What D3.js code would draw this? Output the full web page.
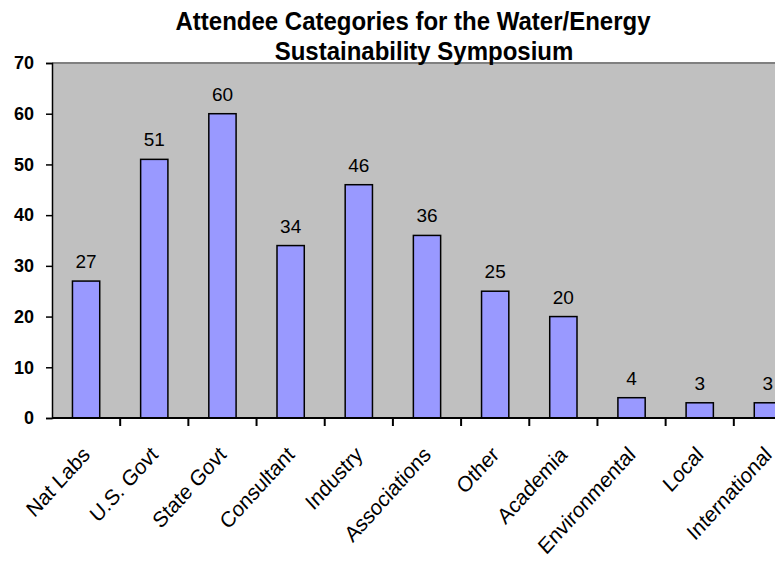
<!DOCTYPE html>
<html lang="en">
<head>
    <meta charset="UTF-8">
    <title>Attendee Categories</title>
    <script src="https://cdn.jsdelivr.net/npm/d3@7"></script>
    <style>
        body { margin: 0; background: #fff; }
        text { font-family: "Liberation Sans", Arial, sans-serif; }
    </style>
</head>
<body>
    <script>
        // data
        let categories = ["Nat Labs", "U.S. Govt", "State Govt", "Consultant", "Industry",
            "Associations", "Other", "Academia", "Environmental", "Local", "International"]
        let counts = [27, 51, 60, 34, 46, 36, 25, 20, 4, 3, 3]
        let yTicks = [0, 10, 20, 30, 40, 50, 60, 70]
        let titleLines = ["Attendee Categories for the Water/Energy", "Sustainability Symposium"]

        let width = 775
        let height = 562
        let plot = ({ left: 52, right: 802, top: 63, bottom: 418 })

        let x = d3.scaleBand()
            .domain(categories)
            .range([plot.left, plot.right])
            .paddingInner(0.6)
            .paddingOuter(0.3)
        let xTick = d3.scaleBand().domain(categories).range([plot.left, plot.right])

        let y = d3.scaleLinear()
            .domain([0, 70])
            .range([plot.bottom, plot.top])

        const svg = d3.select("body").append("svg")
            .attr("width", width)
            .attr("height", height)

        // plot area
        svg.append("rect")
            .attr("x", plot.left).attr("y", plot.top)
            .attr("width", plot.right - plot.left)
            .attr("height", plot.bottom - plot.top)
            .attr("fill", "#c0c0c0")
        svg.append("line")
            .attr("x1", plot.left).attr("x2", plot.right)
            .attr("y1", plot.top).attr("y2", plot.top)
            .attr("stroke", "#808080").attr("stroke-width", 2)

        // title
        svg.append("g").selectAll("text")
            .data(titleLines)
            .join("text")
            .attr("transform", (d, i) => `translate(${i ? 424 : 413},${i ? 60 : 30}) scale(1,1.05)`)
            .attr("text-anchor", "middle")
            .attr("font-size", 24)
            .attr("font-weight", "bold")
            .text(d => d)

        // bars
        svg.append("g").selectAll("rect")
            .data(counts)
            .join("rect")
            .attr("x", (d, i) => x(categories[i]))
            .attr("y", d => y(d))
            .attr("width", x.bandwidth())
            .attr("height", d => y(0) - y(d))
            .attr("fill", "#9999ff")
            .attr("stroke", "#000")
            .attr("stroke-width", 1.5)

        // value labels
        svg.append("g").selectAll("text")
            .data(counts)
            .join("text")
            .attr("x", (d, i) => x(categories[i]) + x.bandwidth() / 2)
            .attr("y", d => y(d) - 13)
            .attr("text-anchor", "middle")
            .attr("font-size", 19)
            .text(d => d)

        // y axis
        const yAxis = svg.append("g")
            .attr("transform", `translate(${plot.left},0)`)
            .call(d3.axisLeft(y).tickValues(yTicks).tickSize(6).tickPadding(12))
        yAxis.select(".domain").attr("stroke", "#000").attr("stroke-width", 1.5)
        yAxis.selectAll(".tick line").attr("stroke", "#000").attr("stroke-width", 1.5)
        yAxis.selectAll(".tick text")
            .attr("font-size", 18)
            .attr("font-weight", "bold")
            .attr("fill", "#000")
            .attr("font-family", "'Liberation Sans', Arial, sans-serif")

        // x axis
        const xAxis = svg.append("g")
            .attr("transform", `translate(0,${plot.bottom})`)
        xAxis.append("line")
            .attr("x1", plot.left).attr("x2", plot.right)
            .attr("stroke", "#000").attr("stroke-width", 2)
        xAxis.selectAll(".xt")
            .data(categories.slice(1))
            .join("line")
            .attr("class", "xt")
            .attr("x1", d => xTick(d)).attr("x2", d => xTick(d))
            .attr("y1", 0).attr("y2", 8)
            .attr("stroke", "#000").attr("stroke-width", 2)
        xAxis.selectAll("text")
            .data(categories)
            .join("text")
            .attr("transform", d => `translate(${xTick(d) + xTick.bandwidth() / 2 + 5},${38}) scale(1,1.1) rotate(-45)`)
            .attr("text-anchor", "end")
            .attr("font-size", 20)
            .text(d => d)
    </script>
</body>
</html>
